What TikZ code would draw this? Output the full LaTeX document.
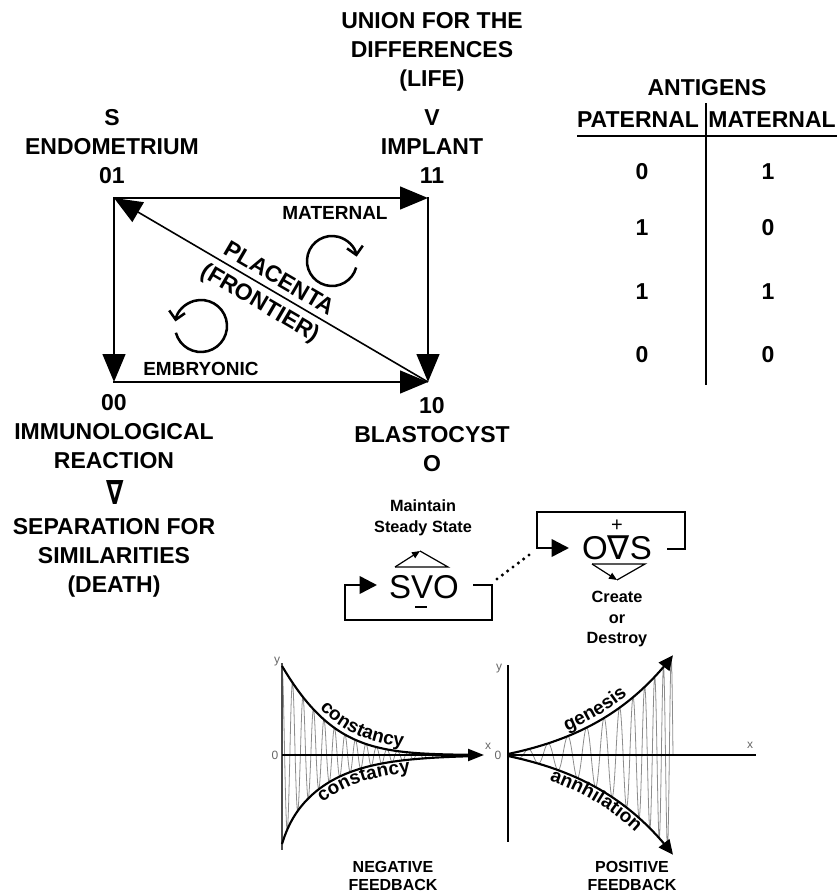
\documentclass[tikz,border=0pt]{standalone}
\usepackage{fontspec}
\setmainfont{Liberation Sans}
\newfontfamily\dvs{DejaVu Sans}
\usetikzlibrary{arrows.meta,decorations.text}
\begin{document}
\begin{tikzpicture}[x=0.75pt,y=-0.75pt,
  big/.style={font=\bfseries\fontsize{17.25}{21.75}\selectfont,align=center,inner sep=0pt},
  mid/.style={font=\bfseries\fontsize{14.25}{17}\selectfont,inner sep=0pt},
  small/.style={font=\bfseries\fontsize{12.2}{15.4}\selectfont,align=center,inner sep=0pt},
  fb/.style={font=\bfseries\fontsize{12}{13.5}\selectfont,align=center,inner sep=0pt},
  eqn/.style={font=\fontsize{24.75}{26}\selectfont,inner sep=0pt},
  axl/.style={font=\fontsize{9}{9}\selectfont,text=black!60,inner sep=0pt},
  bigtip/.style={-{Triangle[length=21pt,width=17pt]}},
  edgeline/.style={line width=1.9pt,line cap=rect,bigtip},
  loopline/.style={line width=1.9pt,-{Triangle[length=13pt,width=13pt]}},
  cyc/.style={line width=1.9pt,-{Straight Barb[length=6pt,width=12pt]}},
  hat/.style={line width=0.9pt},
  hattip/.style={hat,-{Triangle[length=6pt,width=5pt]}},
  osc/.style={line width=0.6pt,black!45},
  env/.style={line width=1.6pt},
  envtip/.style={env,-{Triangle[length=11pt,width=10pt]}},
  curvetext/.style={decorate,decoration={text along path,text align=center,
     text={|\bfseries\fontsize{14.25}{15}\selectfont|#1}}},
  declare function={
    envU(\x)=89*exp(-0.019*\x-(0.008367*\x)^2);
    envD(\x)=89*exp(-0.022*\x-0.15*(1-exp(-min(\x,60)/10)));
    mU(\x)=envU(\x-0.5)-envU(\x+0.5);
    mD(\x)=envD(\x-0.5)-envD(\x+0.5);
    envR(\x)=19.2*(exp(0.011*\x)-1)+1;
    mR(\x)=0.2112*exp(0.011*\x);
  }
]
\useasboundingbox (0,0) rectangle (837,893);

% ---------- vertex labels ----------
\node[big] (endo) at (112,147) {S\\ENDOMETRIUM\\01};
\node[big] (union) at (432,52) {UNION FOR THE\\DIFFERENCES\\(LIFE)};
\node[big] (impl) at (432,147) {V\\IMPLANT\\11};
\node[big] (immu) at (114,432) {00\\IMMUNOLOGICAL\\REACTION};
\node[font=\dvs\bfseries\fontsize{25}{25}\selectfont,inner sep=0pt,xscale=0.75] (nab) at (115,493) {∇};
\node[big] (sep) at (114,558) {SEPARATION FOR\\SIMILARITIES\\(DEATH)};
\node[big] (blast) at (432,435) {10\\BLASTOCYST\\O};

% ---------- square ----------
\coordinate (TL) at (114,198);
\coordinate (TR) at (428,198);
\coordinate (BL) at (114,382);
\coordinate (BR) at (428,382);
\draw[edgeline] (TL) -- (TR);
\draw[edgeline] (TL) -- (BL);
\draw[edgeline] (TR) -- (BR);
\draw[edgeline] (BL) -- (BR);
\draw[line width=1.2pt,bigtip] (BR) -- (TL);

\coordinate (mc) at (332,261);
\coordinate (ec) at (201,326);
\draw[cyc] (mc) ++(15:25) arc[start angle=15,delta angle=335,radius=25];
\draw[cyc] (ec) ++(165:26) arc[start angle=165,delta angle=-335,radius=26];

\node[mid] (matl) at (335,213) {MATERNAL};
\node[mid] (embl) at (201,369) {EMBRYONIC};
\node[big,rotate=-30.3] (plac) at (280,278) {PLACENTA};
\node[big,rotate=-30.3] (front) at (260,304) {(FRONTIER)};

% ---------- table ----------
\node[big] (antig) at (707,88) {ANTIGENS};
\node[big] (pat) at (638,120) {PATERNAL};
\node[big] (mat) at (772,120) {MATERNAL};
\coordinate (hl) at (577,136);
\coordinate (hr) at (837,136);
\coordinate (vt) at (706,103);
\coordinate (vb) at (706,385);
\draw[line width=1.1pt] (hl) -- (hr);
\draw[line width=1.1pt] (vt) -- (vb);
\node[big] (p1) at (642,172) {0};
\node[big] (m1) at (768,172) {1};
\node[big] (p2) at (642,228) {1};
\node[big] (m2) at (768,228) {0};
\node[big] (p3) at (642,292) {1};
\node[big] (m3) at (768,292) {1};
\node[big] (p4) at (642,355) {0};
\node[big] (m4) at (768,355) {0};

% ---------- SVO loop ----------
\node[small] (maint) at (423,518) {Maintain\\Steady State};
\node[eqn] (svo) at (424,587) {SVO};
\coordinate (mn1) at (415,607);
\coordinate (mn2) at (427,607);
\draw[line width=0.8pt] (mn1) -- (mn2);
\coordinate (h1) at (395,567);
\coordinate (h2) at (420,551);
\coordinate (h3) at (448,567);
\draw[hat] (h1) -- (h3) -- (h2);
\draw[hattip] (h1) -- (h2);
\coordinate (s1) at (473,585);
\coordinate (s2) at (492,585);
\coordinate (s3) at (492,620);
\coordinate (s4) at (345,620);
\coordinate (s5) at (345,585);
\coordinate (s6) at (377,585);
\draw[loopline] (s1) -- (s2) -- (s3) -- (s4) -- (s5) -- (s6);

% ---------- OVS loop ----------
\node[eqn] (ovs) at (617,548) {O{\dvs ∇}S};
\node[font=\fontsize{15}{15}\selectfont,inner sep=0pt] (plus) at (617,526) {+};
\coordinate (o1) at (667,549);
\coordinate (o2) at (685,549);
\coordinate (o3) at (685,512);
\coordinate (o4) at (537,512);
\coordinate (o5) at (537,548);
\coordinate (o6) at (569,548);
\draw[loopline] (o1) -- (o2) -- (o3) -- (o4) -- (o5) -- (o6);
\coordinate (v1) at (592,564);
\coordinate (v2) at (645,564);
\coordinate (v3) at (617,580);
\draw[hat] (v1) -- (v2) -- (v3);
\draw[hattip] (v1) -- (v3);
\node[small] (create) at (617,619) {Create\\or\\Destroy};

\coordinate (d1) at (497,579);
\coordinate (d2) at (533,552);
\draw[line width=2.6pt,line cap=round,dash pattern=on 0pt off 5pt] (d1) -- (d2);

% ---------- negative feedback graph ----------
\draw[osc] plot[domain=0:200,samples=1000]
  ({282+\x},{755-(envU(\x)*max(cos(34.2857*\x),0)+envD(\x)*min(cos(34.2857*\x),0))});
\coordinate (ly1) at (282,663);
\coordinate (ly2) at (282,850);
\coordinate (lx1) at (282,755);
\coordinate (lx2) at (484,755);
\draw[line width=1.1pt,black!70] (ly1) -- (ly2);
\draw[line width=1.6pt,-{Triangle[length=12pt,width=9pt]}] (lx1) -- (lx2);
\draw[env] plot[domain=0:195,samples=70,smooth] ({282+\x},{755-envU(\x)});
\draw[env] plot[domain=0:195,samples=70,smooth] ({282+\x},{755+envD(\x)});
\node[axl] (lyl) at (277,662) {y};
\node[axl] (l0) at (275,755) {0};
\node[axl] (lxl) at (488,746) {x};
\path[curvetext=constancy] plot[domain=15:150,samples=28]
  ({282+\x+5*mU(\x)/sqrt(1+mU(\x)^2)},{755-envU(\x)-5/sqrt(1+mU(\x)^2)});
\path[curvetext=constancy] plot[domain=15:150,samples=28]
  ({282+\x+13*mD(\x)/sqrt(1+mD(\x)^2)},{755+envD(\x)+13/sqrt(1+mD(\x)^2)});
\node[fb] (neg) at (393,876) {NEGATIVE\\FEEDBACK};

% ---------- positive feedback graph ----------
\draw[osc] plot[domain=0:165,samples=900]
  ({508+\x},{755-envR(\x)*cos(360*(\x/20+3*(\x/165)^5))});
\coordinate (ry1) at (508,665);
\coordinate (ry2) at (508,842);
\coordinate (rx1) at (508,755);
\coordinate (rx2) at (756,755);
\draw[line width=1.6pt] (ry1) -- (ry2);
\draw[line width=1.2pt] (rx1) -- (rx2);
\draw[envtip] plot[domain=0:165,samples=60,smooth] ({508+\x},{755-envR(\x)});
\draw[envtip] plot[domain=0:165,samples=60,smooth] ({508+\x},{755+envR(\x)});
\node[axl] (ryl) at (499,669) {y};
\node[axl] (r0) at (498,755) {0};
\node[axl] (rxl) at (750,745) {x};
\path[curvetext=genesis] plot[domain=25:150,samples=26]
  ({508+\x-5*mR(\x)/sqrt(1+mR(\x)^2)},{755-envR(\x)-5/sqrt(1+mR(\x)^2)});
\path[curvetext=annhilation] plot[domain=5:165,samples=33]
  ({508+\x-13*mR(\x)/sqrt(1+mR(\x)^2)},{755+envR(\x)+13/sqrt(1+mR(\x)^2)});
\node[fb] (pos) at (632,876) {POSITIVE\\FEEDBACK};
\end{tikzpicture}
\end{document}
